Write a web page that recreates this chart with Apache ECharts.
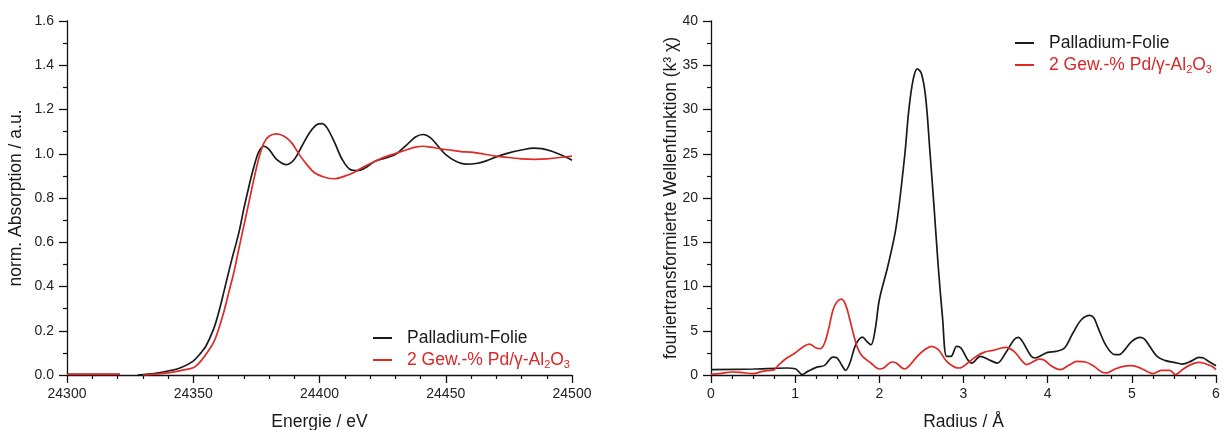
<!DOCTYPE html>
<html>
<head>
<meta charset="utf-8">
<script src="https://cdn.jsdelivr.net/npm/echarts@6/dist/echarts.min.js"></script>
<style>
html,body{margin:0;padding:0;background:#fff;}
#c{width:1226px;height:430px;}
</style>
</head>
<body>
<div id="c"></div>
<script>
// ---- Left panel: XANES ----
const energyPd = [24300, 24321, 24324, 24328, 24335, 24340, 24345, 24350, 24353, 24355, 24358, 24360, 24362, 24365, 24368, 24370, 24372, 24374, 24376, 24378, 24380, 24383, 24387, 24390, 24393, 24396, 24399, 24401, 24403, 24406, 24409, 24412, 24415, 24418, 24422, 24426, 24430, 24434, 24438, 24441, 24444, 24447, 24450, 24454, 24458, 24462, 24466, 24470, 24475, 24480, 24485, 24488, 24492, 24496, 24500];
const absPd = [0.003, 0.003, null, 0.0, 0.008, 0.018, 0.033, 0.063, 0.10, 0.13, 0.206, 0.28, 0.37, 0.51, 0.64, 0.75, 0.85, 0.94, 1.01, 1.034, 1.02, 0.975, 0.951, 0.974, 1.034, 1.094, 1.132, 1.136, 1.117, 1.05, 0.974, 0.93, 0.924, 0.936, 0.966, 0.98, 0.996, 1.034, 1.076, 1.087, 1.072, 1.034, 0.996, 0.966, 0.953, 0.956, 0.968, 0.986, 1.004, 1.017, 1.025, 1.023, 1.011, 0.993, 0.971];

const energyCat = [24300, 24321, 24325, 24330, 24335, 24340, 24345, 24350, 24352, 24355, 24358, 24360, 24362, 24364, 24366, 24368, 24370, 24372, 24374, 24376, 24378, 24380, 24383, 24386, 24389, 24392, 24395, 24398, 24402, 24406, 24410, 24414, 24418, 24422, 24426, 24430, 24434, 24438, 24441, 24444, 24448, 24452, 24456, 24460, 24465, 24470, 24475, 24480, 24485, 24490, 24495, 24500];
const absCat = [0.003, 0.003, null, 0.0, 0.004, 0.01, 0.02, 0.033, 0.05, 0.093, 0.146, 0.206, 0.28, 0.37, 0.46, 0.567, 0.673, 0.778, 0.884, 0.981, 1.049, 1.079, 1.09, 1.079, 1.049, 0.996, 0.951, 0.914, 0.894, 0.887, 0.899, 0.918, 0.944, 0.966, 0.986, 1.001, 1.016, 1.03, 1.034, 1.03, 1.022, 1.016, 1.01, 1.007, 0.999, 0.989, 0.983, 0.977, 0.975, 0.977, 0.983, 0.989];

// ---- Right panel: Fourier transform ----
const radiusPd = [0, 0.5, 0.9, 1.0, 1.05, 1.08, 1.15, 1.25, 1.35, 1.45, 1.5, 1.55, 1.6, 1.65, 1.72, 1.8, 1.85, 1.9, 1.95, 2.0, 2.1, 2.2, 2.3, 2.35, 2.4, 2.45, 2.5, 2.55, 2.6, 2.65, 2.7, 2.75, 2.8, 2.85, 2.92, 2.97, 3.05, 3.1, 3.2, 3.3, 3.4, 3.5, 3.6, 3.65, 3.7, 3.8, 3.85, 3.9, 4.0, 4.1, 4.2, 4.3, 4.4, 4.5, 4.55, 4.6, 4.7, 4.8, 4.85, 4.9, 5.0, 5.1, 5.15, 5.2, 5.3, 5.4, 5.5, 5.6, 5.7, 5.8, 5.85, 5.9, 6.0];
const ftPd = [0.6, 0.68, 0.79, 0.71, 0.3, 0.04, 0.41, 0.86, 1.09, 2.03, 1.92, 1.17, 0.53, 1.35, 3.42, 4.29, 3.8, 3.42, 5.11, 8.5, 12.26, 16.77, 24.66, 29.9, 33.3, 34.6, 34.06, 31.4, 25.4, 19.0, 12.26, 6.6, 2.1, 2.1, 3.23, 3.05, 1.73, 1.35, 2.1, 1.73, 1.35, 2.48, 3.98, 4.25, 3.8, 2.18, 1.92, 2.1, 2.56, 2.67, 3.05, 4.74, 6.24, 6.73, 6.43, 5.3, 3.23, 2.3, 2.3, 2.67, 3.8, 4.25, 4.06, 3.42, 2.1, 1.62, 1.43, 1.24, 1.54, 1.99, 1.92, 1.62, 1.05];

const radiusCat = [0, 0.1, 0.25, 0.35, 0.5, 0.6, 0.7, 0.75, 0.8, 0.9, 1.0, 1.1, 1.17, 1.25, 1.3, 1.35, 1.4, 1.45, 1.5, 1.55, 1.6, 1.65, 1.7, 1.75, 1.8, 1.9, 2.0, 2.05, 2.15, 2.2, 2.3, 2.35, 2.45, 2.55, 2.62, 2.7, 2.8, 2.9, 2.95, 3.05, 3.15, 3.25, 3.35, 3.45, 3.5, 3.6, 3.7, 3.75, 3.8, 3.9, 3.95, 4.05, 4.15, 4.25, 4.35, 4.45, 4.55, 4.65, 4.7, 4.8, 4.9, 5.0, 5.1, 5.2, 5.25, 5.35, 5.45, 5.52, 5.6, 5.7, 5.8, 5.85, 5.95, 6.0];
const ftCat = [0.08, 0.15, 0.34, 0.3, 0.15, 0.38, 0.53, 0.6, 1.09, 1.92, 2.48, 3.23, 3.5, 3.05, 2.97, 3.61, 5.3, 7.37, 8.3, 8.57, 7.93, 6.24, 4.36, 2.86, 2.1, 1.35, 0.68, 0.79, 1.47, 1.35, 0.68, 0.98, 2.1, 2.93, 3.23, 2.86, 1.54, 0.86, 0.79, 1.35, 2.1, 2.59, 2.78, 3.05, 3.12, 2.67, 1.54, 1.17, 1.35, 1.8, 1.73, 0.98, 0.6, 1.09, 1.54, 1.47, 0.98, 0.3, 0.23, 0.68, 0.98, 1.05, 0.79, 0.3, 0.15, 0.53, 0.53, 0.04, 0.6, 1.17, 1.43, 1.35, 0.98, 0.6];

const seriesNames = ['Palladium-Folie', '2 Gew.-% Pd/γ-Al₂O₃'];
const leftYTicks = [0, 1.6, 0.2];
const rightYTicks = [0, 40, 5];

function zip(xs, ys) { return xs.map((x, i) => [x, ys[i]]); }

const FONT = '"Liberation Sans", Arial, Helvetica, sans-serif';
const BLACK = '#1a1a1a';
const RED = '#de2a26';
const RED_TXT = '#d8282a';

function xAxisCfg(grid, min, max, interval, minorSplit, name, fmt) {
  return {
    gridIndex: grid, type: 'value', min: min, max: max, interval: interval,
    name: name, nameLocation: 'middle', nameGap: 38, nameMoveOverlap: false,
    nameTextStyle: { fontFamily: FONT, fontSize: 17.5, color: '#1a1a1a' },
    axisLine: { onZero: false, lineStyle: { color: '#111', width: 1.3 } },
    axisTick: { inside: false, length: 8, lineStyle: { color: '#111', width: 1.3 } },
    minorTick: { show: true, splitNumber: minorSplit, length: 4, lineStyle: { color: '#111', width: 1.2 } },
    axisLabel: { fontFamily: FONT, fontSize: 14, color: '#222', margin: 12, formatter: fmt, showMaxLabel: true, showMinLabel: true },
    splitLine: { show: false }
  };
}
function yAxisCfg(grid, ticks, minorSplit, name, gap, fmt) {
  return {
    gridIndex: grid, type: 'value', min: ticks[0], max: ticks[1], interval: ticks[2],
    name: name, nameLocation: 'middle', nameGap: gap, nameRotate: 90, nameMoveOverlap: false,
    nameTextStyle: { fontFamily: FONT, fontSize: 17.5, color: '#1a1a1a' },
    axisLine: { onZero: false, lineStyle: { color: '#111', width: 1.3 } },
    axisTick: { inside: false, length: 8, lineStyle: { color: '#111', width: 1.3 } },
    minorTick: { show: true, splitNumber: minorSplit, length: 4, lineStyle: { color: '#111', width: 1.2 } },
    axisLabel: { fontFamily: FONT, fontSize: 14, color: '#222', margin: 13, formatter: fmt },
    splitLine: { show: false }
  };
}

function legendCfg(left, top) {
  return {
    orient: 'vertical', left: left, top: top,
    icon: 'rect', itemWidth: 19, itemHeight: 2, itemGap: 2,
    data: [
      { name: seriesNames[0], textStyle: { color: '#1a1a1a' } },
      { name: seriesNames[1], textStyle: { color: RED_TXT } }
    ],
    formatter: function (n) {
      if (n === seriesNames[1]) return '2 Gew.-% Pd/γ-Al{s|2}O{s|3}';
      return n;
    },
    textStyle: {
      fontFamily: FONT, fontSize: 17.5, lineHeight: 20, padding: [0, 0, 0, 10],
      rich: { s: { fontFamily: FONT, fontSize: 11, lineHeight: 11, verticalAlign: 'bottom', color: RED_TXT } }
    }
  };
}

function lineSeries(name, x, y, color, xi, yi) {
  return {
    name: name, type: 'line', xAxisIndex: xi, yAxisIndex: yi,
    data: zip(x, y), showSymbol: false, symbol: 'none', smooth: 0.35,
    connectNulls: false,
    lineStyle: { color: color, width: 1.7 }, itemStyle: { color: color },
    animation: false
  };
}

const chart = echarts.init(document.getElementById('c'), null, { renderer: 'canvas' });
chart.setOption({
  backgroundColor: '#ffffff',
  animation: false,
  grid: [
    { left: 67, right: 1226 - 572, top: 21, bottom: 55, containLabel: false, outerBoundsMode: 'none' },
    { left: 711, right: 1226 - 1216, top: 21, bottom: 55, containLabel: false, outerBoundsMode: 'none' }
  ],
  xAxis: [
    xAxisCfg(0, 24300, 24500, 50, 5, 'Energie / eV', v => String(v)),
    xAxisCfg(1, 0, 6, 1, 4, 'Radius / Å', v => String(v))
  ],
  yAxis: [
    yAxisCfg(0, leftYTicks, 2, 'norm. Absorption / a.u.', 42, v => v.toFixed(1)),
    yAxisCfg(1, rightYTicks, 2, 'fouriertransformierte Wellenfunktion (k³ χ)', 31, v => String(v))
  ],
  legend: [legendCfg(368, 323), legendCfg(1010, 28)],
  series: [
    lineSeries(seriesNames[0], energyPd, absPd, BLACK, 0, 0),
    lineSeries(seriesNames[1], energyCat, absCat, RED, 0, 0),
    lineSeries(seriesNames[0], radiusPd, ftPd, BLACK, 1, 1),
    lineSeries(seriesNames[1], radiusCat, ftCat, RED, 1, 1)
  ]
});
</script>
</body>
</html>
